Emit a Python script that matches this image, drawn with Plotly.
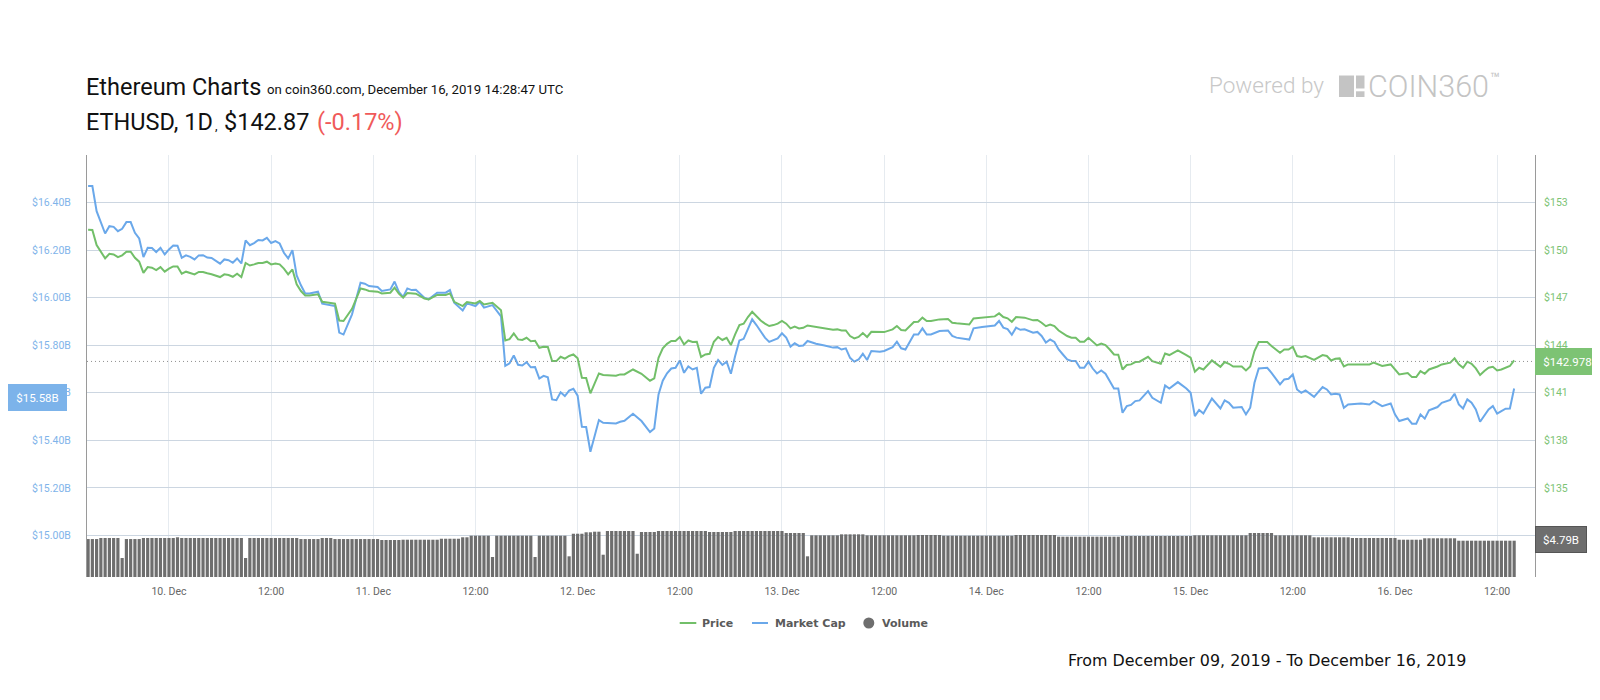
import pandas as pd
import plotly.graph_objects as go

# ---------------- data ----------------
START = pd.Timestamp("2019-12-09 14:30")
STEP = pd.Timedelta(minutes=30)

# index of the 30-minute interval after START for each price / market-cap sample
slots = [
    0, 1, 2, 3, 4, 5, 6, 7, 8, 9,
    10, 11, 12, 13, 14, 15, 16, 17, 18, 19,
    20, 21, 22, 23, 24, 25, 26, 27, 28, 29,
    31, 32, 33, 34, 35, 36, 37, 38, 39, 40,
    41, 42, 43, 44, 45, 46, 47, 48, 49, 50,
    51, 52, 54, 55, 57, 58, 59, 60, 62, 63,
    64, 65, 66, 68, 69, 71, 72, 73, 74, 75,
    76, 77, 79, 80, 82, 84, 85, 86, 88, 89,
    91, 92, 93, 95, 97, 98, 99, 100, 101, 102,
    103, 104, 105, 106, 107, 108, 109, 110, 111, 112,
    113, 114, 115, 116, 117, 118, 119, 120, 121, 123,
    124, 125, 126, 128, 130, 132, 133, 134, 135, 136,
    137, 138, 139, 140, 141, 142, 143, 144, 145, 146,
    147, 148, 149, 150, 151, 152, 153, 154, 155, 156,
    157, 158, 159, 160, 161, 162, 163, 164, 165, 166,
    167, 168, 169, 171, 173, 175, 176, 177, 178, 179,
    180, 181, 182, 183, 184, 186, 187, 189, 190, 191,
    192, 194, 195, 196, 197, 198, 200, 202, 203, 204,
    207, 208, 210, 213, 214, 215, 216, 217, 218, 219,
    220, 222, 223, 224, 225, 226, 227, 228, 229, 230,
    231, 232, 233, 234, 235, 236, 237, 238, 239, 240,
    241, 242, 243, 244, 245, 246, 247, 249, 250, 252,
    253, 254, 256, 258, 259, 260, 261, 262, 264, 266,
    267, 268, 269, 271, 272, 273, 274, 275, 277, 278,
    280, 281, 282, 283, 284, 285, 286, 288, 290, 291,
    292, 293, 294, 295, 296, 299, 301, 302, 304, 306,
    307, 308, 310, 311, 312, 313, 314, 315, 317, 318,
    320, 321, 322, 323, 324, 325, 326, 327, 328, 329,
    330, 331, 332, 333, 334, 335,
]

price = [
    151.29, 151.27, 150.32, 149.88, 149.48, 149.77, 149.73, 149.56, 149.67, 149.90,
    149.90, 149.52, 149.27, 148.57, 148.93, 148.89, 148.74, 148.93, 148.64, 148.83,
    148.97, 148.97, 148.51, 148.64, 148.57, 148.47, 148.62, 148.62, 148.54, 148.48,
    148.30, 148.47, 148.43, 148.32, 148.51, 148.30, 149.19, 149.03, 149.10, 149.19,
    149.19, 149.27, 149.10, 149.16, 149.10, 148.83, 148.47, 148.78, 147.84, 147.42,
    147.14, 147.14, 147.21, 146.74, 146.66, 146.62, 145.56, 145.53, 146.30, 146.89,
    147.58, 147.52, 147.42, 147.38, 147.27, 147.31, 147.63, 147.25, 147.00, 147.29,
    147.28, 147.25, 146.95, 146.89, 147.17, 147.17, 147.27, 146.74, 146.47, 146.73,
    146.64, 146.79, 146.57, 146.68, 146.20, 144.30, 144.38, 144.74, 144.37, 144.33,
    144.47, 144.25, 144.28, 143.84, 143.91, 143.89, 143.00, 143.00, 143.27, 143.15,
    143.32, 143.42, 143.17, 141.95, 141.93, 140.97, 141.60, 142.22, 142.12, 142.11,
    142.08, 142.16, 142.16, 142.47, 142.20, 141.76, 141.91, 143.21, 143.81, 144.09,
    144.27, 144.27, 144.52, 144.05, 144.30, 144.20, 144.22, 143.26, 143.42, 143.46,
    144.22, 144.52, 144.33, 144.47, 144.01, 144.68, 145.27, 145.36, 145.78, 146.11,
    145.84, 145.56, 145.36, 145.21, 145.27, 145.36, 145.53, 145.36, 145.06, 145.17,
    145.06, 145.10, 145.25, 145.15, 145.06, 144.98, 145.00, 144.93, 144.93, 144.58,
    144.43, 144.52, 144.77, 144.52, 144.85, 144.83, 144.83, 145.00, 145.21, 144.96,
    144.93, 145.46, 145.48, 145.74, 145.53, 145.53, 145.63, 145.65, 145.42, 145.38,
    145.31, 145.69, 145.74, 145.82, 146.01, 145.78, 145.70, 145.48, 145.78, 145.74,
    145.74, 145.57, 145.59, 145.42, 145.20, 145.31, 145.21, 144.93, 144.74, 144.58,
    144.47, 144.47, 144.22, 144.22, 144.47, 144.20, 143.99, 144.11, 144.01, 143.73,
    143.42, 143.40, 142.47, 142.75, 142.79, 142.94, 142.96, 143.27, 143.00, 142.83,
    143.48, 143.38, 143.67, 143.38, 143.21, 142.33, 142.58, 142.47, 143.04, 142.64,
    142.94, 142.83, 142.66, 142.66, 142.41, 142.66, 143.63, 144.20, 144.20, 143.95,
    143.53, 143.73, 143.73, 143.91, 143.32, 143.26, 143.32, 143.07, 143.38, 143.32,
    143.04, 143.15, 143.17, 142.66, 142.79, 142.79, 142.79, 142.90, 142.69, 142.79,
    142.47, 142.16, 142.25, 141.99, 141.99, 142.37, 142.20, 142.47, 142.66, 142.79,
    142.90, 143.17, 142.79, 142.58, 142.96, 142.83, 142.54, 142.12, 142.37, 142.58,
    142.64, 142.41, 142.47, 142.56, 142.69, 143.04,
]

mcap = [  # billions USD
    16.470, 16.470, 16.364, 16.315, 16.270, 16.301, 16.298, 16.280, 16.290, 16.318,
    16.318, 16.273, 16.249, 16.171, 16.210, 16.209, 16.192, 16.210, 16.182, 16.203,
    16.220, 16.219, 16.168, 16.178, 16.172, 16.161, 16.178, 16.179, 16.169, 16.167,
    16.143, 16.161, 16.158, 16.147, 16.165, 16.144, 16.241, 16.221, 16.230, 16.243,
    16.241, 16.252, 16.230, 16.238, 16.228, 16.189, 16.165, 16.200, 16.094, 16.052,
    16.018, 16.018, 16.025, 15.975, 15.969, 15.965, 15.853, 15.845, 15.930, 15.993,
    16.063, 16.059, 16.049, 16.045, 16.028, 16.035, 16.068, 16.024, 16.003, 16.039,
    16.032, 16.033, 16.000, 15.993, 16.021, 16.021, 16.032, 15.979, 15.946, 15.976,
    15.965, 15.983, 15.958, 15.969, 15.921, 15.713, 15.724, 15.757, 15.718, 15.715,
    15.729, 15.707, 15.708, 15.660, 15.671, 15.665, 15.572, 15.569, 15.602, 15.586,
    15.609, 15.617, 15.588, 15.457, 15.456, 15.352, 15.418, 15.485, 15.474, 15.474,
    15.471, 15.478, 15.482, 15.512, 15.481, 15.435, 15.450, 15.593, 15.651, 15.682,
    15.702, 15.705, 15.736, 15.684, 15.711, 15.698, 15.705, 15.596, 15.621, 15.624,
    15.705, 15.738, 15.717, 15.731, 15.680, 15.755, 15.820, 15.827, 15.871, 15.909,
    15.885, 15.857, 15.832, 15.814, 15.820, 15.829, 15.850, 15.832, 15.794, 15.808,
    15.797, 15.799, 15.818, 15.806, 15.799, 15.790, 15.792, 15.782, 15.787, 15.747,
    15.731, 15.740, 15.764, 15.738, 15.776, 15.773, 15.776, 15.792, 15.815, 15.787,
    15.782, 15.845, 15.845, 15.871, 15.845, 15.845, 15.860, 15.862, 15.839, 15.832,
    15.824, 15.871, 15.877, 15.883, 15.902, 15.874, 15.868, 15.844, 15.874, 15.865,
    15.867, 15.853, 15.856, 15.839, 15.811, 15.824, 15.814, 15.782, 15.761, 15.740,
    15.734, 15.734, 15.705, 15.705, 15.731, 15.702, 15.681, 15.694, 15.680, 15.649,
    15.618, 15.618, 15.516, 15.544, 15.549, 15.565, 15.568, 15.607, 15.579, 15.558,
    15.631, 15.618, 15.645, 15.618, 15.600, 15.502, 15.528, 15.513, 15.576, 15.534,
    15.568, 15.558, 15.537, 15.540, 15.509, 15.537, 15.642, 15.702, 15.705, 15.684,
    15.635, 15.656, 15.659, 15.677, 15.614, 15.600, 15.610, 15.583, 15.624, 15.614,
    15.593, 15.596, 15.593, 15.537, 15.551, 15.555, 15.551, 15.565, 15.544, 15.555,
    15.509, 15.481, 15.492, 15.470, 15.470, 15.509, 15.491, 15.526, 15.540, 15.558,
    15.570, 15.596, 15.551, 15.534, 15.572, 15.558, 15.530, 15.478, 15.506, 15.530,
    15.544, 15.512, 15.523, 15.533, 15.534, 15.618,
]

# volume per 30-minute interval from START, billions USD
volume = [
    5.01, 5.01, 5.01, 5.15, 5.15, 5.15, 5.15, 5.15, 2.51, 5.01,
    5.01, 5.01, 5.01, 5.15, 5.15, 5.15, 5.15, 5.15, 5.15, 5.15,
    5.15, 5.24, 5.15, 5.15, 5.15, 5.15, 5.15, 5.15, 5.15, 5.15,
    5.15, 5.15, 5.15, 5.15, 5.15, 5.15, 5.15, 2.51, 5.15, 5.15,
    5.15, 5.15, 5.15, 5.15, 5.15, 5.15, 5.15, 5.15, 5.15, 5.15,
    5.01, 5.01, 5.01, 5.01, 5.01, 5.15, 5.15, 5.15, 5.01, 5.01,
    5.01, 5.01, 5.01, 5.01, 5.01, 5.01, 5.01, 5.01, 5.01, 4.88,
    4.88, 4.88, 4.88, 4.88, 4.92, 4.92, 4.92, 4.92, 4.92, 4.92,
    4.92, 4.92, 4.92, 5.05, 5.05, 5.05, 5.05, 5.05, 5.24, 5.24,
    5.45, 5.45, 5.45, 5.45, 5.45, 2.64, 5.45, 5.45, 5.45, 5.45,
    5.45, 5.45, 5.45, 5.45, 5.45, 2.64, 5.45, 5.45, 5.45, 5.45,
    5.45, 5.45, 5.45, 2.73, 5.71, 5.71, 5.71, 5.90, 5.90, 5.98,
    5.98, 2.94, 6.07, 6.07, 6.07, 6.07, 6.07, 6.07, 6.07, 3.07,
    5.94, 5.94, 5.94, 5.94, 6.07, 6.07, 6.07, 6.07, 6.07, 6.07,
    6.07, 6.07, 6.07, 6.07, 6.07, 6.07, 5.94, 5.94, 5.94, 5.94,
    5.94, 5.94, 6.07, 6.07, 6.07, 6.07, 6.07, 6.07, 6.07, 6.07,
    6.07, 6.07, 6.07, 6.07, 5.81, 5.81, 5.81, 5.81, 5.81, 2.73,
    5.50, 5.50, 5.50, 5.50, 5.50, 5.50, 5.50, 5.63, 5.63, 5.63,
    5.63, 5.63, 5.63, 5.50, 5.50, 5.50, 5.50, 5.50, 5.50, 5.50,
    5.50, 5.50, 5.50, 5.50, 5.50, 5.54, 5.54, 5.54, 5.54, 5.54,
    5.54, 5.45, 5.45, 5.45, 5.45, 5.45, 5.45, 5.45, 5.45, 5.45,
    5.45, 5.45, 5.45, 5.45, 5.45, 5.45, 5.45, 5.45, 5.54, 5.54,
    5.54, 5.54, 5.54, 5.54, 5.54, 5.54, 5.54, 5.54, 5.32, 5.32,
    5.32, 5.32, 5.32, 5.32, 5.32, 5.32, 5.32, 5.32, 5.32, 5.32,
    5.32, 5.32, 5.32, 5.41, 5.41, 5.41, 5.41, 5.41, 5.41, 5.41,
    5.41, 5.41, 5.41, 5.41, 5.41, 5.41, 5.41, 5.41, 5.41, 5.41,
    5.50, 5.50, 5.50, 5.50, 5.50, 5.50, 5.50, 5.50, 5.50, 5.50,
    5.50, 5.50, 5.50, 5.81, 5.81, 5.81, 5.81, 5.81, 5.81, 5.50,
    5.50, 5.50, 5.50, 5.50, 5.50, 5.50, 5.50, 5.50, 5.24, 5.24,
    5.24, 5.24, 5.24, 5.24, 5.24, 5.24, 5.24, 5.15, 5.15, 5.15,
    5.15, 5.15, 5.15, 5.15, 5.15, 5.15, 5.15, 5.15, 4.92, 4.92,
    4.92, 4.92, 4.92, 4.92, 5.11, 5.11, 5.11, 5.11, 5.11, 5.11,
    5.11, 5.11, 4.79, 4.79, 4.79, 4.79, 4.79, 4.79, 4.79, 4.79,
    4.79, 4.79, 4.79, 4.79, 4.79, 4.79,
]

tick_times = [
    "2019-12-10 00:00", "2019-12-10 12:00", "2019-12-11 00:00", "2019-12-11 12:00",
    "2019-12-12 00:00", "2019-12-12 12:00", "2019-12-13 00:00", "2019-12-13 12:00",
    "2019-12-14 00:00", "2019-12-14 12:00", "2019-12-15 00:00", "2019-12-15 12:00",
    "2019-12-16 00:00", "2019-12-16 12:00",
]
tick_labels = ["10. Dec", "12:00", "11. Dec", "12:00", "12. Dec", "12:00", "13. Dec",
               "12:00", "14. Dec", "12:00", "15. Dec", "12:00", "16. Dec", "12:00"]

mcap_ticks = [15.0, 15.2, 15.4, 15.6, 15.8, 16.0, 16.2, 16.4, 16.6]
mcap_labels = ["$15.00B", "$15.20B", "$15.40B", "$15.60B", "$15.80B",
               "$16.00B", "$16.20B", "$16.40B", ""]
price_ticks = [135, 138, 141, 144, 147, 150, 153]
price_labels = ["$135", "$138", "$141", "$144", "$147", "$150", "$153"]

last_price = 142.978
last_price_label = "$142.978"
last_mcap = 15.58
last_mcap_label = "$15.58B"
last_volume_label = "$4.79B"

assert len(slots) == len(price) == len(mcap)

# ---------------- styling ----------------
W, H = 1600, 700
ML, MR, MT, MB = 79, 73, 147, 131
PW = W - ML - MR
PH = H - MT - MB

GREEN = "#72bf69"
BLUE = "#6aa8ea"
GRAY = "#6e6e6e"


def px(x):
    return (x - ML) / PW


def py(y):
    return (H - MB - y) / PH


times = [START + s * STEP for s in slots]
vol_times = [START + i * STEP for i in range(len(volume))]

fig = go.Figure()
fig.add_trace(go.Scatter(x=times, y=mcap, mode="lines", name="Market Cap",
                         line=dict(color=BLUE, width=2), yaxis="y", showlegend=False))
fig.add_trace(go.Scatter(x=times, y=price, mode="lines", name="Price",
                         line=dict(color=GREEN, width=2), yaxis="y2", showlegend=False))
fig.add_trace(go.Bar(x=vol_times, y=volume, name="Volume", yaxis="y3",
                     marker=dict(color=GRAY, line=dict(width=0)), showlegend=False))

tickfont = dict(family="Roboto", size=10.5)

fig.update_layout(
    width=W, height=H,
    margin=dict(l=ML, r=MR, t=MT, b=MB, autoexpand=False),
    paper_bgcolor="white", plot_bgcolor="white",
    bargap=0.25,
    xaxis=dict(type="date",
               range=["2019-12-09 14:22:15", "2019-12-16 16:27:00"],
               tickvals=tick_times, ticktext=tick_labels,
               showgrid=True, gridcolor="#e6ebf0", gridwidth=1,
               zeroline=False, showline=False, ticks="",
               tickfont=dict(tickfont, color="#666666"),
               ticklabelstandoff=6),
    yaxis=dict(range=[14.825, 16.6003], tickvals=mcap_ticks, ticktext=mcap_labels,
               showgrid=True, gridcolor="#ccd6e1", gridwidth=1,
               zeroline=False, showline=True, linecolor="#9a9a9a", linewidth=1,
               ticks="", tickfont=dict(tickfont, color="#7fb4ea"),
               ticklabelstandoff=13),
    yaxis2=dict(overlaying="y", side="right", range=[129.38, 156.0],
                tickvals=price_ticks, ticktext=price_labels,
                showgrid=False, zeroline=False, showline=True,
                linecolor="#9a9a9a", linewidth=1, ticks="",
                tickfont=dict(tickfont, color="#7cc374"),
                ticklabelstandoff=6),
    yaxis3=dict(overlaying="y", range=[0, 55.69], visible=False),
)

shapes = [
    dict(type="line", xref="paper", x0=0, x1=1, yref="y2", y0=last_price, y1=last_price,
         line=dict(color="#8f8f8f", width=1, dash="1px,3px")),
    # legend symbols
    dict(type="line", xref="paper", yref="paper", x0=px(671.7), x1=px(688.3),
         y0=py(615), y1=py(615), line=dict(color=GREEN, width=2)),
    dict(type="line", xref="paper", yref="paper", x0=px(744), x1=px(760),
         y0=py(615), y1=py(615), line=dict(color=BLUE, width=2)),
    dict(type="circle", xref="paper", yref="paper", x0=px(855.3), x1=px(866.3),
         y0=py(620.5), y1=py(609.5), fillcolor=GRAY, line=dict(width=0)),
    # COIN360 logo mark
    dict(type="rect", xref="paper", yref="paper", x0=px(1331), x1=px(1346),
         y0=py(89), y1=py(67.5), fillcolor="#c4c4c4", line=dict(width=0)),
    dict(type="rect", xref="paper", yref="paper", x0=px(1348), x1=px(1356.5),
         y0=py(80.5), y1=py(67.5), fillcolor="#c4c4c4", line=dict(width=0)),
    dict(type="rect", xref="paper", yref="paper", x0=px(1348), x1=px(1356.5),
         y0=py(89), y1=py(83.3), fillcolor="#c4c4c4", line=dict(width=0)),
]


def text(t, x, y, size, color="#111111", family="Roboto", xanchor="left", weight=None):
    f = dict(family=family, size=size, color=color)
    if weight:
        f["weight"] = weight
    return dict(text=t, xref="paper", yref="paper", x=px(x), y=py(y),
                xanchor=xanchor, yanchor="middle", showarrow=False, font=f)


annotations = [
    text("Ethereum Charts", 75.5, 78.5, 23.5),
    text("on coin360.com, December 16, 2019 14:28:47 UTC", 257, 82, 13.2),
    text("ETHUSD, 1D", 75.5, 113.5, 23.5),
    text(",", 204.5, 117, 13),
    text("$142.87", 213.5, 113.5, 23.5),
    text("(-0.17%)", 307, 113.5, 23.5, color="#f05a5a"),
    text("Powered by", 1199, 77, 22.5, color="#c8c8c8", weight=300),
    text("COIN360", 1357.5, 78.5, 30.5, color="#c4c4c4", weight=300),
    text("™", 1480, 70, 16, color="#c4c4c4"),
    text("Price", 692, 615, 11, color="#5a5a5a", family="DejaVu Sans", weight="bold"),
    text("Market Cap", 765, 615, 11, color="#5a5a5a", family="DejaVu Sans", weight="bold"),
    text("Volume", 872, 615, 11, color="#5a5a5a", family="DejaVu Sans", weight="bold"),
    text("From December 09, 2019 - To December 16, 2019", 1058, 652.5, 15.9,
         color="#111111", family="DejaVu Sans"),
    # current value labels
    dict(text=last_mcap_label, xref="paper", x=px(59), xanchor="right",
         yref="y", y=last_mcap, yanchor="middle", showarrow=False,
         font=dict(family="Roboto", size=11.5, color="white"),
         bgcolor="#7cb3ea", bordercolor="#7cb3ea", borderwidth=1, borderpad=0,
         width=57, height=25),
    dict(text=last_price_label, xref="paper", x=1.0, xanchor="left",
         yref="y2", y=last_price, yanchor="middle", showarrow=False,
         font=dict(family="Roboto", size=11.5, color="white"),
         bgcolor="#7dc374", bordercolor="#7dc374", borderwidth=1, borderpad=0,
         width=63, height=25),
    dict(text=last_volume_label, xref="paper", x=1.0, xanchor="left",
         yref="paper", y=py(531), yanchor="middle", showarrow=False,
         font=dict(family="Roboto", size=11.5, color="white"),
         bgcolor="#6e6e6e", bordercolor="#555555", borderwidth=1, borderpad=0,
         width=50, height=25),
]

fig.update_layout(shapes=shapes, annotations=annotations)
fig.write_html("out.html")
